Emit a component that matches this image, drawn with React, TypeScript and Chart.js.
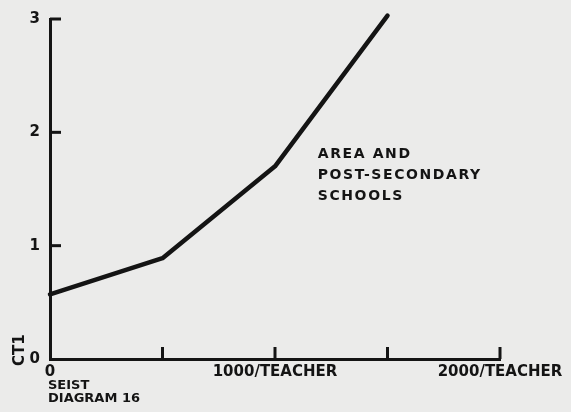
import React, { useEffect, useRef } from "react";
import { Chart, registerables } from "chart.js";

Chart.register(...registerables);

const xValues = [0, 500, 1000, 1500];
const ctValues = [0.57, 0.89, 1.7, 3.03];
const xTickValues = [0, 500, 1000, 1500, 2000];
const xTickLabels = ["0", "", "1000/TEACHER", "", "2000/TEACHER"];
const yTickLabels = ["0", "1", "2", "3"];
const annotationLines = ["AREA AND", "POST-SECONDARY", "SCHOOLS"];
const footerLines = ["SEIST", "DIAGRAM 16"];
const yAxisTitle = "CT1";

const INK = "#141414";
const PAPER = "#ebebea";
const FONT = "'DejaVu Sans', sans-serif";

export default function App() {
  const ref = useRef<HTMLCanvasElement | null>(null);

  useEffect(() => {
    document.body.style.margin = "0";
    const canvas = ref.current;
    if (!canvas) return;

    const decor = {
      id: "decor",
      beforeDraw(chart: any) {
        const c = chart.ctx;
        c.save();
        c.fillStyle = PAPER;
        c.fillRect(0, 0, chart.width, chart.height);
        c.restore();
      },
      afterDraw(chart: any) {
        const c = chart.ctx;
        const xs = chart.scales.x;
        const ys = chart.scales.y;
        const area = chart.chartArea;
        c.save();
        c.strokeStyle = INK;
        c.lineWidth = 3;
        c.lineCap = "butt";
        xTickValues.forEach((v) => {
          if (v === 0) return;
          const px = xs.getPixelForValue(v);
          c.beginPath();
          c.moveTo(px, area.bottom);
          c.lineTo(px, area.bottom - 12);
          c.stroke();
        });
        yTickLabels.forEach((_, i) => {
          if (i === 0) return;
          const py = ys.getPixelForValue(i);
          c.beginPath();
          c.moveTo(area.left, py);
          c.lineTo(area.left + 11, py);
          c.stroke();
        });
        c.fillStyle = INK;
        // annotation
        c.font = `bold 14px ${FONT}`;
        (c as any).letterSpacing = "1.6px";
        c.textAlign = "left";
        c.textBaseline = "alphabetic";
        const ax = xs.getPixelForValue(1190);
        annotationLines.forEach((t, i) => {
          c.fillText(t, ax, ys.getPixelForValue(1.8) + 3 + i * 21);
        });
        (c as any).letterSpacing = "0px";
        // footer
        c.font = `bold 13px ${FONT}`;
        footerLines.forEach((t, i) => {
          c.fillText(t, area.left - 2, area.bottom + 30 + i * 13);
        });
        // y title
        c.font = `bold 15px ${FONT}`;
        c.translate(24, area.bottom + 7);
        c.rotate(-Math.PI / 2);
        c.fillText(yAxisTitle, 0, 0);
        c.restore();
      },
    };

    const chart = new Chart(canvas, {
      type: "line",
      data: {
        datasets: [
          {
            data: xValues.map((x, i) => ({ x, y: ctValues[i] })),
            borderColor: INK,
            borderWidth: 4.5,
            pointRadius: 0,
            tension: 0,
            clip: false as any,
            borderJoinStyle: "round",
            borderCapStyle: "round",
          },
        ],
      },
      options: {
        responsive: false,
        animation: false,
        layout: { padding: { left: 0, right: 71, top: 18, bottom: 0 } },
        plugins: { legend: { display: false }, tooltip: { enabled: false } },
        scales: {
          x: {
            type: "linear",
            min: 0,
            max: 2000,
            grid: { display: false, drawTicks: false },
            border: { display: true, color: INK, width: 3 },
            ticks: {
              stepSize: 500,
              autoSkip: false,
              maxRotation: 0,
              padding: 4,
              color: INK,
              font: { family: FONT, size: 15, weight: "bold" },
              callback: (v: any) => {
                const i = xTickValues.indexOf(Number(v));
                return i >= 0 ? xTickLabels[i] : "";
              },
            },
            afterFit: (s: any) => {
              s.height = 53;
            },
          },
          y: {
            type: "linear",
            min: 0,
            max: 3,
            grid: { display: false, drawTicks: false },
            border: { display: true, color: INK, width: 3 },
            ticks: {
              stepSize: 1,
              padding: 10,
              color: INK,
              font: { family: FONT, size: 15, weight: "bold" },
              callback: (v: any) => yTickLabels[Number(v)] ?? "",
            },
            afterFit: (s: any) => {
              s.width = 50;
            },
          },
        },
      },
      plugins: [decor],
    });

    return () => chart.destroy();
  }, []);

  return (
    <div style={{ position: "fixed", left: 0, top: 0, width: 571, height: 412, background: PAPER }}>
      <canvas ref={ref} width={571} height={412} style={{ display: "block" }} />
    </div>
  );
}
